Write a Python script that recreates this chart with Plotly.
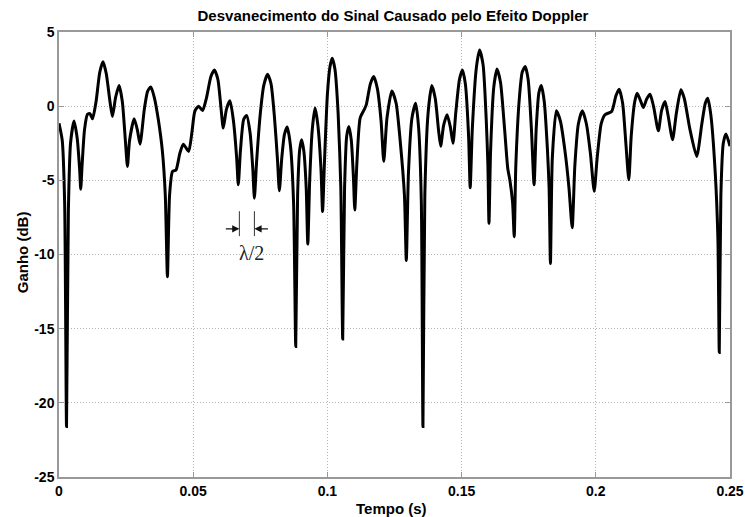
import plotly.graph_objects as go

tempo = [
    0.0000, 0.0012, 0.0021, 0.0028, 0.0035, 0.0043, 0.0056, 0.0068, 0.0077, 0.0081,
    0.0086, 0.0095, 0.0106, 0.0115, 0.0125, 0.0138, 0.0152, 0.0164, 0.0176, 0.0190,
    0.0199, 0.0211, 0.0224, 0.0236, 0.0248, 0.0255, 0.0263, 0.0280, 0.0292, 0.0302,
    0.0318, 0.0330, 0.0342, 0.0355, 0.0370, 0.0385, 0.0396, 0.0404, 0.0412, 0.0423,
    0.0436, 0.0450, 0.0463, 0.0483, 0.0495, 0.0506, 0.0520, 0.0535, 0.0550, 0.0566,
    0.0579, 0.0592, 0.0604, 0.0612, 0.0624, 0.0637, 0.0650, 0.0662, 0.0668, 0.0676,
    0.0688, 0.0699, 0.0712, 0.0722, 0.0728, 0.0736, 0.0750, 0.0763, 0.0777, 0.0790,
    0.0803, 0.0814, 0.0821, 0.0830, 0.0840, 0.0850, 0.0862, 0.0874, 0.0882, 0.0889,
    0.0897, 0.0904, 0.0912, 0.0921, 0.0927, 0.0934, 0.0944, 0.0954, 0.0964, 0.0976,
    0.0982, 0.0989, 0.1000, 0.1010, 0.1018, 0.1028, 0.1040, 0.1050, 0.1057, 0.1064,
    0.1072, 0.1080, 0.1089, 0.1097, 0.1102, 0.1110, 0.1122, 0.1138, 0.1145, 0.1160,
    0.1173, 0.1186, 0.1200, 0.1210, 0.1222, 0.1240, 0.1256, 0.1272, 0.1287, 0.1294,
    0.1302, 0.1315, 0.1329, 0.1340, 0.1350, 0.1356, 0.1363, 0.1375, 0.1389, 0.1402,
    0.1414, 0.1422, 0.1433, 0.1446, 0.1458, 0.1468, 0.1478, 0.1492, 0.1503, 0.1514,
    0.1526, 0.1532, 0.1540, 0.1555, 0.1567, 0.1580, 0.1592, 0.1598, 0.1602, 0.1608,
    0.1620, 0.1632, 0.1645, 0.1660, 0.1672, 0.1680, 0.1690, 0.1696, 0.1702, 0.1715,
    0.1726, 0.1737, 0.1748, 0.1760, 0.1770, 0.1778, 0.1788, 0.1797, 0.1808, 0.1820,
    0.1826, 0.1831, 0.1838, 0.1853, 0.1868, 0.1885, 0.1900, 0.1912, 0.1922, 0.1935,
    0.1950, 0.1965, 0.1980, 0.1994, 0.2005, 0.2020, 0.2034, 0.2059, 0.2075, 0.2087,
    0.2100, 0.2112, 0.2123, 0.2132, 0.2145, 0.2154, 0.2166, 0.2177, 0.2190, 0.2202,
    0.2215, 0.2233, 0.2245, 0.2258, 0.2270, 0.2286, 0.2300, 0.2317, 0.2330, 0.2350,
    0.2376, 0.2395, 0.2408, 0.2417, 0.2428, 0.2445, 0.2455, 0.2460, 0.2466, 0.2475,
    0.2485, 0.2500,
]

ganho_db = [
    -1.15, -2.3, -6.5, -21.6, -7.0, -2.5, -1.0, -2.2, -4.3, -5.6,
    -4.0, -1.6, -0.55, -0.5, -0.85, 0.3, 2.3, 3.0, 2.2, 0.3,
    -0.7, 0.6, 1.39, 0.3, -2.5, -4.06, -2.3, -0.85, -1.6, -2.56,
    -0.2, 1.0, 1.3, 0.6, -0.9, -3.0, -6.0, -11.5, -6.0, -4.4,
    -4.3, -3.2, -2.56, -3.05, -1.8, -0.35, 0.0, -0.3, 0.6, 2.0,
    2.44, 1.8, -0.2, -1.48, -0.2, 0.36, -1.0, -3.5, -5.3, -3.0,
    -0.9, -0.63, -1.8, -4.2, -6.2, -3.8, -0.5, 1.4, 2.15, 1.5,
    -0.8, -3.6, -5.7, -3.5, -1.9, -1.4, -2.6, -6.5, -16.2, -6.0,
    -2.9, -2.26, -3.0, -5.5, -9.3, -5.0, -1.5, -0.13, -1.2, -4.2,
    -7.1, -3.8, 0.8, 2.7, 3.23, 2.5, -0.5, -5.5, -15.7, -5.5,
    -2.0, -1.37, -2.3, -4.8, -7.0, -3.8, -0.8, -0.2, 0.1, 1.5,
    2.0, 1.2, -1.0, -3.72, -0.8, 1.03, 0.2, -2.5, -6.0, -10.4,
    -4.5, -0.8, 0.2, -1.5, -6.5, -21.6, -6.0, -0.5, 1.39, 0.5,
    -1.6, -2.7, -1.3, -0.58, -1.4, -2.5, -0.5, 1.8, 2.44, 1.5,
    -2.0, -5.5, -1.5, 2.6, 3.79, 2.8, -1.0, -4.0, -7.9, -3.0,
    1.3, 2.5, 1.6, -1.5, -4.2, -5.0, -6.5, -8.8, -4.0, 0.5,
    2.3, 2.67, 1.8, -1.5, -5.3, -1.5, 0.9, 1.39, 0.3, -3.0,
    -5.5, -10.6, -3.5, -0.31, -1.0, -3.0, -5.5, -8.2, -4.0, -1.2,
    -0.31, -1.2, -3.2, -5.74, -3.5, -1.2, -0.58, -0.36, 0.7, 1.14,
    0.2, -2.5, -4.96, -2.0, 0.3, 0.87, 0.4, -0.09, 0.5, 0.8,
    0.0, -1.66, -0.3, 0.31, -0.7, -2.26, -0.5, 1.1, 0.5, -1.5,
    -3.39, -1.2, 0.2, 0.54, -0.5, -4.5, -9.0, -16.6, -6.0, -2.5,
    -1.88, -2.7,
]

x_ticks = [0, 0.05, 0.1, 0.15, 0.2, 0.25]
x_tick_labels = ["0", "0.05", "0.1", "0.15", "0.2", "0.25"]
y_ticks = [-25, -20, -15, -10, -5, 0, 5]
y_tick_labels = ["-25", "-20", "-15", "-10", "-5", "0", "5"]

# lambda/2 annotation geometry (data coordinates)
marker_t = [0.0672, 0.0728]
marker_y = [-7.08, -8.76]
arrow_y = -8.27
arrow_tails = [0.0616, 0.0784]
label_pos = (0.0716, -9.9)

fig = go.Figure()
fig.add_trace(go.Scatter(
    x=tempo, y=ganho_db, mode="lines",
    line=dict(color="black", width=3, shape="spline", smoothing=0.6),
    showlegend=False, hoverinfo="skip",
))

for t in marker_t:
    fig.add_shape(type="line", x0=t, x1=t, y0=marker_y[0], y1=marker_y[1],
                  xref="x", yref="y", line=dict(color="#333333", width=1))

for tail, head in zip(arrow_tails, marker_t):
    fig.add_annotation(x=head, y=arrow_y, ax=tail, ay=arrow_y,
                       xref="x", yref="y", axref="x", ayref="y",
                       text="", showarrow=True, arrowhead=2, arrowsize=1.2,
                       arrowwidth=1.2, arrowcolor="#111111")

fig.add_annotation(x=label_pos[0], y=label_pos[1], xref="x", yref="y",
                   text="λ/2", showarrow=False,
                   font=dict(family="Liberation Serif", size=20, color="#222222"))

# axis titles
fig.add_annotation(x=0.496, y=0, xref="paper", yref="paper", yanchor="middle",
                   yshift=-31, text="<b>Tempo (s)</b>", showarrow=False,
                   font=dict(family="Liberation Sans", size=15, color="black"))
fig.add_annotation(x=0, y=0.505, xref="paper", yref="paper", xanchor="center",
                   xshift=-37, textangle=-90, text="<b>Ganho (dB)</b>",
                   showarrow=False,
                   font=dict(family="Liberation Sans", size=15, color="black"))

axis_font = dict(family="Liberation Sans", size=14, color="black")

fig.update_layout(
    width=745, height=517,
    margin=dict(l=59, r=15, t=32, b=40),
    paper_bgcolor="white", plot_bgcolor="white",
    title=dict(text="<b>Desvanecimento do Sinal Causado pelo Efeito Doppler</b>",
               x=0.5275, xanchor="center", y=0.969, yanchor="middle",
               font=dict(family="Liberation Sans", size=15, color="black")),
    font=axis_font,
)

common = dict(
    showgrid=True, gridcolor="#b4b4b4", griddash="1px,2px", gridwidth=1,
    showline=True, linecolor="#999999", linewidth=1.5, mirror="ticks",
    ticks="inside", ticklen=5, tickcolor="#999999",
    zeroline=False, automargin=False,
    tickfont=dict(family="Liberation Sans", size=14, color="black"),
)

fig.update_xaxes(range=[0, 0.25], tickvals=x_ticks,
                 ticktext=["<b>%s</b>" % s for s in x_tick_labels], **common)
fig.update_yaxes(range=[-25, 5], tickvals=y_ticks,
                 ticktext=["<b>%s</b>" % s for s in y_tick_labels], **common)

fig.write_html("out.html")
